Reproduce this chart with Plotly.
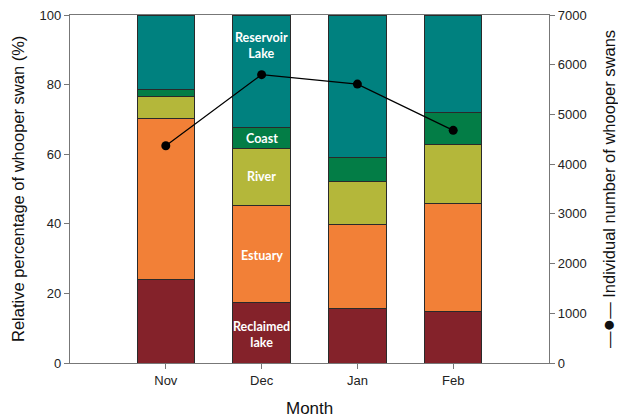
import plotly.graph_objects as go

months = ["Nov", "Dec", "Jan", "Feb"]

# Relative share (%) of whooper swans by habitat, bottom to top
reclaimed_lake = [24.0, 17.5, 15.8, 14.9]
estuary = [46.2, 27.7, 23.9, 31.0]
river = [6.3, 16.4, 12.6, 17.0]
coast = [2.1, 6.0, 6.8, 9.0]
reservoir_lake = [21.4, 32.4, 40.9, 28.1]

# Total count of individuals per month
swan_counts = [4370, 5800, 5610, 4680]

layers = [
    ("Reclaimed lake", reclaimed_lake, "#84222A"),
    ("Estuary", estuary, "#F28037"),
    ("River", river, "#B4B73A"),
    ("Coast", coast, "#037D46"),
    ("Reservoir lake", reservoir_lake, "#00817F"),
]

fig = go.Figure()
for name, vals, color in layers:
    fig.add_trace(go.Bar(
        x=months, y=vals, name=name,
        marker=dict(color=color, line=dict(color="#2a2a2a", width=1)),
        width=0.6, showlegend=False,
    ))

fig.add_trace(go.Scatter(
    x=months, y=swan_counts, yaxis="y2", mode="lines+markers",
    line=dict(color="black", width=1.2),
    marker=dict(color="black", size=9),
    showlegend=False,
))

# Habitat names written inside the December bar
label_font = dict(family="Lato, Open Sans, sans-serif", size=12.5, color="white")
labels = [
    ("Reservoir<br>Lake", 91.3),
    ("Coast", 64.6),
    ("River", 53.7),
    ("Estuary", 30.8),
    ("Reclaimed<br>lake", 8.2),
]
for text, y in labels:
    fig.add_annotation(x="Dec", y=y, text="<b>%s</b>" % text, showarrow=False,
                       font=label_font, xref="x", yref="y")

tick_font = dict(family="Liberation Sans, Arial, sans-serif", size=13, color="#222")
title_font = dict(family="Liberation Sans, Arial, sans-serif", size=16.5, color="#111")

axis_common = dict(
    showline=True, linecolor="#777", linewidth=1.2,
    ticks="outside", tickcolor="#777", ticklen=5,
    showgrid=False, zeroline=False, automargin=False,
    tickfont=tick_font,
)

fig.update_layout(
    barmode="stack",
    width=618, height=419,
    margin=dict(l=70, r=69, t=15, b=56),
    plot_bgcolor="white", paper_bgcolor="white",
    xaxis=dict(**axis_common, range=[-1, 4], mirror=True),
    yaxis=dict(**axis_common, range=[0, 100], tickvals=[0, 20, 40, 60, 80, 100]),
    yaxis2=dict(**axis_common, range=[0, 7000], overlaying="y", side="right",
                tickvals=list(range(0, 7001, 1000))),
    bargap=0.4,
)

# Axis titles
fig.add_annotation(
    text="Month", xref="paper", yref="paper", x=0.5, y=0, yshift=-45,
    yanchor="middle", showarrow=False,
    font=dict(family="Liberation Sans, Arial, sans-serif", size=17, color="#111"),
)
fig.add_annotation(
    text="Relative percentage of whooper swan (%)",
    xref="paper", yref="paper", x=0, y=0.5, xshift=-52, xanchor="center",
    textangle=-90, showarrow=False, font=title_font,
)
fig.add_annotation(
    text="—<span style='font-size:21px'>●</span>— Individual number of whooper swans",
    xref="paper", yref="paper", x=1.0, y=0.5, xshift=58, xanchor="center",
    textangle=-90, showarrow=False, font=title_font,
)

fig.write_html("out.html")
